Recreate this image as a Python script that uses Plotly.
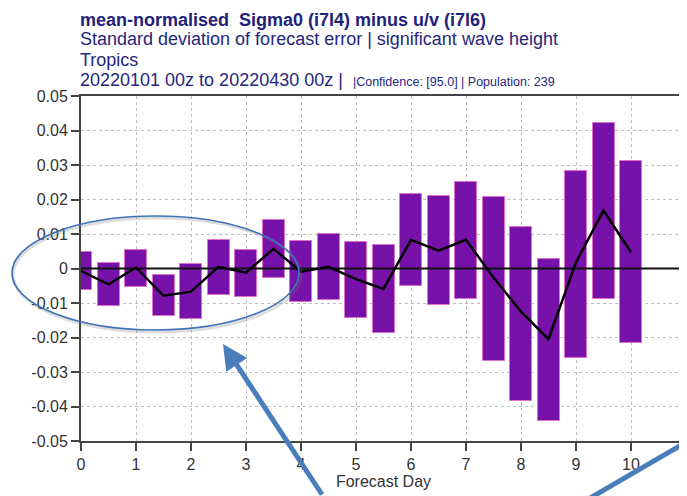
import plotly.graph_objects as go

# ---- data ----
days = [0, 0.5, 1, 1.5, 2, 2.5, 3, 3.5, 4, 4.5, 5, 5.5, 6, 6.5, 7, 7.5, 8, 8.5, 9, 9.5, 10]
upper = [0.0049, 0.0017, 0.0054, -0.0019, 0.0012, 0.0083, 0.0054, 0.0141, 0.0081, 0.0100,
         0.0076, 0.0068, 0.0217, 0.0211, 0.0252, 0.0208, 0.0121, 0.0028, 0.0283, 0.0421, 0.0312]
lower = [-0.0062, -0.0109, -0.0053, -0.0138, -0.0147, -0.0077, -0.0082, -0.0028, -0.0098, -0.0091,
         -0.0144, -0.0186, -0.0051, -0.0106, -0.0088, -0.0267, -0.0383, -0.0441, -0.0260, -0.0088, -0.0217]
mean = [-0.0007, -0.0046, 0.0003, -0.0079, -0.0067, 0.0005, -0.0012, 0.0057, -0.0009, 0.0005,
        -0.0031, -0.0059, 0.0083, 0.0052, 0.0083, -0.0026, -0.0125, -0.0205, 0.0018, 0.0168, 0.0047]

x_ticks = list(range(0, 12))
x_ticktext = [str(v) for v in x_ticks]
y_ticks = [0.05, 0.04, 0.03, 0.02, 0.01, 0, -0.01, -0.02, -0.03, -0.04, -0.05]
y_ticktext = ["0.05", "0.04", "0.03", "0.02", "0.01", "0", "-0.01", "-0.02", "-0.03", "-0.04", "-0.05"]

title_lines = [
    "<b>mean-normalised  Sigma0 (i7l4) minus u/v (i7l6)</b>",
    "Standard deviation of forecast error | significant wave height",
    "Tropics",
    "20220101 00z to 20220430 00z |  <span style='font-size:12.5px'>|Confidence: [95.0] | Population: 239</span>",
]
x_label = "Forecast Day"

# page offset from default body margin
OFF = 8
W, H = 687 - OFF, 496 - OFF

# plot area in page pixels
PL, PR, PT, PB = 81, 686, 96, 441


def px(xp):
    return (xp - PL) / (PR - PL)


def py(yp):
    return (PB - yp) / (PB - PT)


# ---- figure ----
heights = [u - l for u, l in zip(upper, lower)]

fig = go.Figure()
fig.add_trace(go.Bar(
    x=days, y=heights, base=lower, width=0.4,
    marker=dict(color="#7612aa", line=dict(color="#e070c8", width=1)),
    showlegend=False, hoverinfo="skip",
))
fig.add_trace(go.Scatter(
    x=[0, 11], y=[0, 0], mode="lines",
    line=dict(color="#111111", width=2), showlegend=False, hoverinfo="skip",
))
fig.add_trace(go.Scatter(
    x=days, y=mean, mode="lines",
    line=dict(color="#000000", width=2.5), showlegend=False,
))

axis_common = dict(
    showline=True, linecolor="#444444", linewidth=2, mirror=True,
    ticks="outside", ticklen=8, tickwidth=1.5, tickcolor="#444444",
    showgrid=True, gridcolor="#bdbdbd", gridwidth=1, griddash="dot",
    zeroline=False, automargin=False,
    tickfont=dict(family="Liberation Sans, Arial", size=16, color="#333333"),
)

fig.update_layout(
    width=W, height=H,
    margin=dict(l=PL - OFF, r=W - (PR - OFF), t=PT - OFF, b=H - (PB - OFF)),
    paper_bgcolor="white", plot_bgcolor="white",
    bargap=0,
    xaxis=dict(range=[0, 11], tickmode="array", tickvals=x_ticks, ticktext=x_ticktext,
               title=dict(text=x_label, standoff=0,
                          font=dict(family="Liberation Sans, Arial", size=16, color="#333333")),
               **axis_common),
    yaxis=dict(range=[-0.05, 0.05], tickmode="array", tickvals=y_ticks, ticktext=y_ticktext,
               **axis_common),
    font=dict(family="Liberation Sans, Arial"),
)

# first line anchored at its top so it stays inside the figure
fig.add_annotation(
    text=title_lines[0], xref="paper", yref="paper", x=0, y=py(OFF + 0.5),
    xanchor="left", yanchor="top", showarrow=False, xshift=-2, borderpad=0,
    font=dict(family="Liberation Sans, Arial", size=18, color="#22227a"),
)
title_y_px = [39.5, 60, 80.5]
for txt, yy in zip(title_lines[1:], title_y_px):
    fig.add_annotation(
        text=txt, xref="paper", yref="paper", x=0, y=py(yy),
        xanchor="left", yanchor="middle", showarrow=False, xshift=-2, borderpad=0,
        font=dict(family="Liberation Sans, Arial", size=18, color="#26267e"),
    )

# ---- overlay decorations (ellipse and arrows) ----
blue = "#4a7ebb"
fig.add_shape(type="circle", xref="paper", yref="paper",
              x0=px(13), x1=px(301), y0=py(332), y1=py(218),
              line=dict(color="rgba(120,120,120,0.25)", width=3), layer="above")
fig.add_shape(type="circle", xref="paper", yref="paper",
              x0=px(12), x1=px(299), y0=py(330), y1=py(216),
              line=dict(color="#3f74b8", width=1.7), layer="above")

fig.add_annotation(
    xref="paper", yref="paper", x=px(223), y=py(344),
    ax=100, ay=160, axref="pixel", ayref="pixel",
    text="", showarrow=True, arrowhead=2, arrowsize=1.0, arrowwidth=5, arrowcolor=blue,
)
fig.add_shape(type="line", xref="paper", yref="paper",
              x0=px(585), y0=py(501), x1=px(690), y1=py(440),
              line=dict(color=blue, width=5), layer="above")

fig.write_html("out.html")
